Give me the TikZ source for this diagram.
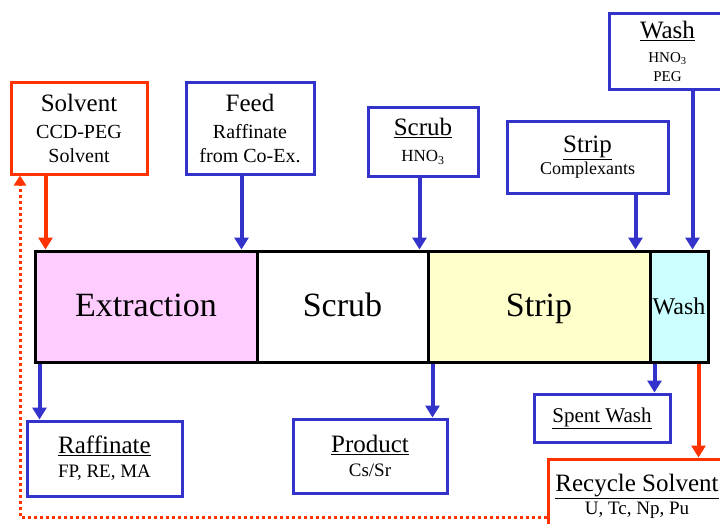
\documentclass[tikz,border=0pt]{standalone}
\usepackage{fontspec}
\setmainfont{Liberation Serif}
\usetikzlibrary{arrows.meta}
\definecolor{myblue}{RGB}{51,51,204}
\definecolor{myred}{RGB}{255,51,0}
\definecolor{extfill}{RGB}{255,204,255}
\definecolor{stripfill}{RGB}{255,255,204}
\definecolor{washfill}{RGB}{204,255,255}
\begin{document}
\begin{tikzpicture}[x=1pt,y=-1pt,
  box/.style={draw, line width=3pt, fill=white, inner sep=0pt, align=center},
  bluebox/.style={box, draw=myblue},
  redbox/.style={box, draw=myred},
  cell/.style={draw=black, line width=3pt, inner sep=0pt, minimum height=111pt, text height=22pt, text depth=2pt, font=\fontsize{34}{40}\selectfont},
  barrow/.style={draw=myblue, line width=4pt, -{Triangle[width=14pt,length=12pt]}},
  rarrow/.style={barrow, draw=myred},
  dotred/.style={draw=myred, line width=3pt, dash pattern=on 3pt off 3pt, -{Triangle[width=12pt,length=10pt]}}
  ]
\clip (0,0) rectangle (720,523);
\fill[white] (0,0) rectangle (720,523);

% process bar
\node[cell, fill=extfill, minimum width=222pt] (ext) at (146,306.5) {Extraction};
\node[cell, fill=white, minimum width=171pt] (scrubc) at (342.5,306.5) {Scrub};
\node[cell, fill=stripfill, minimum width=222pt] (stripc) at (539,306.5) {Strip};
\node[cell, fill=washfill, minimum width=58pt, text height=16pt, text depth=0pt, font=\fontsize{24}{28}\selectfont] (washc) at (679,306.5) {Wash};

% top boxes
\node[redbox, minimum width=136pt, minimum height=92pt, font=\fontsize{20}{24}\selectfont] (solvent) at (79,128)
  {{\fontsize{25}{27}\selectfont Solvent}\\[3pt]CCD-PEG\\Solvent};
\node[bluebox, minimum width=128pt, minimum height=92pt, font=\fontsize{20}{24}\selectfont] (feed) at (250,128)
  {{\fontsize{25}{27}\selectfont Feed}\\[3pt]Raffinate\\from Co-Ex.};
\node[bluebox, minimum width=110pt, minimum height=69pt, font=\fontsize{17}{22}\selectfont] (scrub) at (423,141.5)
  {{\fontsize{25}{27}\selectfont\underline{Scrub}}\\[4pt]HNO\textsubscript{3}};
\node[bluebox, minimum width=161pt, minimum height=72pt, font=\fontsize{18}{22}\selectfont] (strip) at (587.5,157)
  {{\fontsize{25}{27}\selectfont\underline{Strip}}\\Complexants};
\node[bluebox, minimum width=117pt, minimum height=76pt, font=\fontsize{15}{19}\selectfont] (wash) at (667.5,51)
  {{\fontsize{25}{27}\selectfont\underline{Wash}}\\[5pt]HNO\textsubscript{3}\\PEG};

% bottom boxes
\node[bluebox, minimum width=155pt, minimum height=75pt, font=\fontsize{19}{24}\selectfont] (raff) at (104.5,458.5)
  {{\fontsize{25}{27}\selectfont\underline{Raffinate}}\\FP, RE, MA};
\node[bluebox, minimum width=154pt, minimum height=74pt, font=\fontsize{19}{24}\selectfont] (product) at (370,456)
  {{\fontsize{25}{27}\selectfont\underline{Product}}\\Cs/Sr};
\node[bluebox, minimum width=136pt, minimum height=48pt, font=\fontsize{21}{24}\selectfont] (spent) at (602,418)
  {\underline{Spent Wash}};
\node[redbox, minimum width=178pt, minimum height=74pt, font=\fontsize{19}{23}\selectfont] (recycle) at (637,496)
  {{\fontsize{25}{27}\selectfont\underline{Recycle Solvent}}\\U, Tc, Np, Pu};

% feed arrows
\draw[rarrow] ([xshift=36pt]solvent.south west) -- ([xshift=36pt]solvent.south west |- ext.north);
\draw[barrow] ([xshift=57pt]feed.south west) -- ([xshift=57pt]feed.south west |- ext.north);
\draw[barrow] ([xshift=53pt]scrub.south west) -- ([xshift=53pt]scrub.south west |- scrubc.north);
\draw[barrow] ([xshift=130pt]strip.south west) -- ([xshift=130pt]strip.south west |- stripc.north);
\draw[barrow] ([xshift=85pt]wash.south west) -- ([xshift=85pt]wash.south west |- washc.north);

% product arrows
\draw[barrow] ([xshift=14pt]raff.north west |- ext.south) -- ([xshift=14pt]raff.north west);
\draw[barrow] ([xshift=141pt]product.north west |- stripc.south) -- ([xshift=141pt]product.north west);
\draw[barrow] ([xshift=122pt]spent.north west |- washc.south) -- ([xshift=122pt]spent.north west);
\draw[rarrow] ([xshift=152pt]recycle.north west |- washc.south) -- ([xshift=152pt]recycle.north west);

% recycle loop
\coordinate (corner) at (20,517);
\draw[dotred] (recycle.west |- corner) -- (corner) -- (corner |- solvent.south);
\end{tikzpicture}
\end{document}
